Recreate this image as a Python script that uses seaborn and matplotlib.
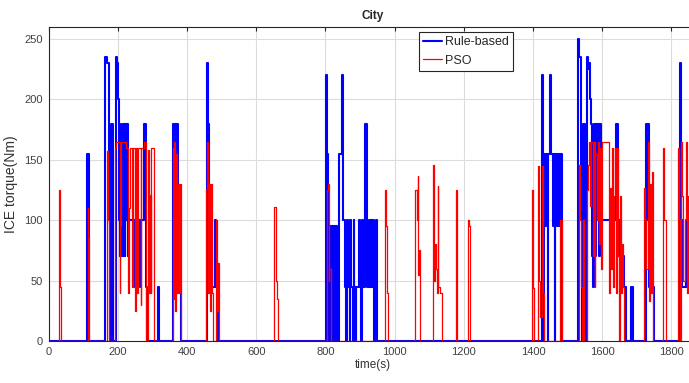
import matplotlib
matplotlib.use('Agg')
import matplotlib.pyplot as plt
import seaborn as sns
import pandas as pd

# Rule-based ICE torque, step points (time s, torque Nm)
rb_t = [0, 110, 117, 163, 170, 175, 177, 182, 185,
        195, 199, 201, 203, 204, 206, 208, 210, 212, 214, 216, 218, 220, 222, 224, 226, 229, 231,
        233, 249, 258, 264, 268, 275, 281, 283, 286,
        316, 319,
        360, 363, 365, 368, 370, 374, 377, 384,
        457, 461, 463, 465, 481, 484, 490,
        802, 806, 809, 812, 814, 817, 819, 822, 824, 828, 831, 834,
        839, 848, 852, 857, 861, 863, 866, 870, 872, 875, 879, 882, 884, 888, 890, 896, 899, 904,
        907, 909, 916, 920, 925, 928, 933, 935, 939, 942, 945, 948,
        1426, 1430, 1433, 1436, 1439, 1442, 1444, 1450, 1453, 1457, 1460, 1463, 1465, 1469, 1472,
        1475, 1478, 1485,
        1530, 1534, 1538, 1541, 1546, 1549, 1555, 1558, 1561, 1564, 1568, 1571, 1574, 1576, 1579,
        1582, 1585, 1587, 1591, 1594, 1597, 1641, 1646, 1650, 1655, 1660, 1664, 1670,
        1684, 1688,
        1726, 1730, 1732, 1736, 1740, 1744, 1750,
        1824, 1828, 1831, 1842, 1844, 1852, 1874]
rb_v = [0, 155, 0, 235, 230, 100, 0, 180, 0,
        235, 230, 200, 180, 100, 70, 180, 70, 100, 180, 70, 180, 70, 180, 100, 180, 70, 100,
        100, 45, 100, 45, 100, 180, 100, 45, 0,
        45, 0,
        180, 100, 180, 45, 180, 70, 45, 0,
        230, 180, 100, 45, 100, 45, 0,
        220, 155, 95, 0, 95, 0, 95, 0, 95, 0, 95, 0,
        155, 220, 100, 45, 0, 100, 45, 0, 100, 45, 0, 100, 45, 0, 45, 100, 45, 0,
        100, 45, 180, 45, 100, 45, 100, 45, 100, 0, 100, 0,
        220, 0, 155, 95, 155, 0, 155, 220, 155, 95, 155, 0, 155, 95, 155,
        95, 155, 0,
        250, 235, 100, 0, 180, 0, 235, 225, 230, 200, 180, 70, 45, 180, 70,
        180, 100, 180, 70, 180, 100, 180, 70, 100, 45, 70, 45, 0,
        45, 0,
        180, 100, 180, 45, 100, 45, 0,
        230, 100, 45, 100, 45, 100, 100]

# PSO ICE torque, step points (time s, torque Nm)
pso_t = [0, 30, 33, 35,
         113, 115, 118,
         168, 170, 173, 176,
         193, 196, 206, 208, 210, 225, 230, 232, 236, 242, 244, 251, 253, 257, 259, 266, 268, 275,
         281, 283, 287, 290, 292, 295, 297, 304,
         360, 362, 364, 366, 369, 371, 375, 378, 380, 383,
         455, 459, 462, 464, 467, 469, 472, 476,
         483, 487, 490, 493,
         653, 656, 660, 664,
         806, 808, 810, 812, 815, 817,
         972, 975, 977, 980,
         1060, 1064, 1067, 1069, 1071, 1074,
         1111, 1114, 1116, 1119, 1122, 1125, 1127, 1132, 1137,
         1177, 1180,
         1213, 1216, 1219,
         1397, 1400, 1402,
         1415, 1418, 1421, 1425, 1428, 1431,
         1477, 1484,
         1533, 1536, 1539, 1541, 1545, 1548, 1556, 1560, 1563, 1566, 1569, 1573, 1575, 1578, 1580,
         1584, 1587, 1591, 1594, 1597, 1600, 1620, 1622, 1625, 1628, 1631, 1634, 1637, 1640, 1643,
         1646, 1649, 1652, 1655, 1658, 1661, 1664,
         1720, 1724, 1728, 1732, 1735, 1738, 1741, 1745, 1748,
         1776, 1780, 1783,
         1819, 1822, 1825, 1828, 1831, 1834, 1838, 1841, 1844, 1848, 1874]
pso_v = [0, 125, 45, 0,
         110, 85, 0,
         125, 157, 100, 0,
         160, 165, 40, 95, 165, 160, 40, 110, 160, 45, 160, 25, 160, 40, 160, 30, 160, 165,
         45, 0, 158, 40, 121, 40, 160, 0,
         160, 35, 165, 25, 155, 40, 130, 40, 130, 0,
         125, 165, 40, 130, 25, 130, 40, 0,
         100, 25, 65, 0,
         111, 50, 35, 0,
         125, 130, 50, 60, 40, 0,
         125, 95, 40, 0,
         125, 100, 137, 55, 75, 0,
         146, 50, 80, 60, 40, 128, 45, 40, 0,
         125, 0,
         100, 95, 0,
         125, 44, 0,
         145, 50, 20, 145, 40, 0,
         100, 0,
         146, 100, 45, 0, 100, 0, 125, 146, 165, 112, 165, 70, 165, 45, 155,
         100, 165, 80, 160, 60, 165, 40, 127, 60, 160, 45, 120, 160, 40, 160,
         70, 0, 120, 40, 80, 45, 0,
         127, 100, 60, 165, 33, 130, 40, 140, 0,
         160, 100, 0,
         160, 100, 0, 165, 120, 50, 100, 165, 40, 120, 120]

df_rb = pd.DataFrame({'time': rb_t, 'torque': rb_v})
df_pso = pd.DataFrame({'time': pso_t, 'torque': pso_v})

sns.set_style('whitegrid')
plt.rcParams['font.family'] = ['Liberation Sans', 'DejaVu Sans']

fig = plt.figure(figsize=(6.89, 3.83), dpi=100)
ax = fig.add_axes([48.5 / 689, 1 - 341 / 383, 648.5 / 689, 314 / 383])

sns.lineplot(data=df_rb, x='time', y='torque', ax=ax, color='#0000ff', linewidth=1.5,
             drawstyle='steps-post', estimator=None, sort=False, label='Rule-based')
sns.lineplot(data=df_pso, x='time', y='torque', ax=ax, color='#ff0000', linewidth=0.9,
             drawstyle='steps-post', estimator=None, sort=False, label='PSO')

ax.set_xlim(0, 1874)
ax.set_ylim(0, 260)
ax.set_xticks(range(0, 1801, 200))
ax.set_yticks(range(0, 251, 50))
ax.grid(True, color='#dcdcdc', linewidth=0.8)
for s in ax.spines.values():
    s.set_color('#262626')
    s.set_linewidth(0.8)
ax.tick_params(direction='in', length=3, top=True, right=True, labelsize=8,
               colors='#262626', pad=4)
for lab in ax.get_xticklabels() + ax.get_yticklabels():
    lab.set_color('#404040')
ax.set_title('City', fontsize=8.5, fontweight='bold', pad=6)
ax.set_xlabel('time(s)', fontsize=8.5, color='#333333', labelpad=2)
ax.set_ylabel('ICE torque(Nm)', fontsize=10, color='#333333', labelpad=5)

leg = ax.legend(loc='upper left', bbox_to_anchor=(0.571, 0.984), fontsize=9,
                fancybox=False, framealpha=1, edgecolor='#262626', borderpad=0.35,
                handlelength=1.5, handletextpad=0.25, labelspacing=0.5, borderaxespad=0)
leg.get_frame().set_linewidth(0.8)

plt.savefig('out.png', dpi=100)
plt.close()
